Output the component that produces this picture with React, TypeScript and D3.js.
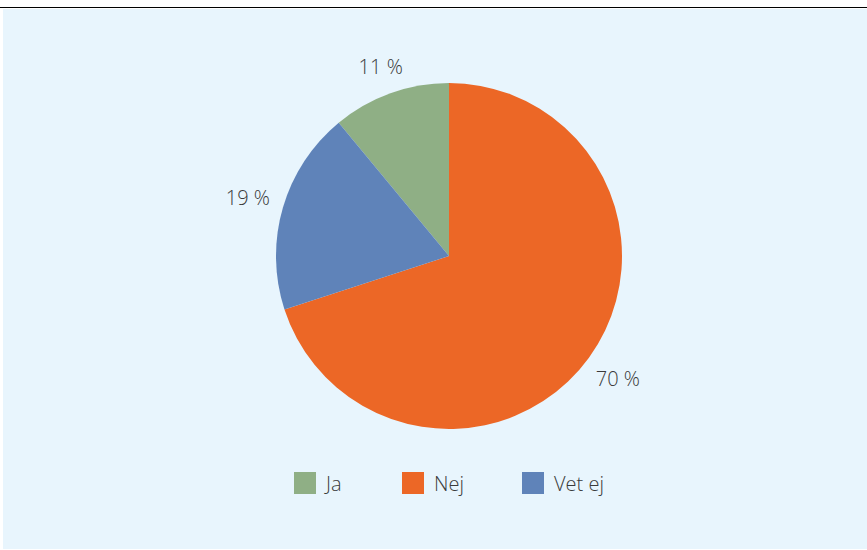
import React from 'react';
import * as d3 from 'd3';

// Chart data
const categories = ['Ja', 'Nej', 'Vet ej'];
const values = [11, 70, 19];
const colors = ['#8faf85', '#ec6726', '#5f83b9'];

const width = 867;
const height = 550;
const cx = 449;
const cy = 256;
const radius = 173;
const fontFamily = '"Open Sans", "DejaVu Sans", sans-serif';

const App = () => {
  const total = d3.sum(values);
  // first slice (Ja) ends at 12 o'clock
  const start = -(values[0] / total) * Math.PI * 2;
  const pie = d3.pie<number>().sort(null).startAngle(start).endAngle(start + Math.PI * 2);
  const arcs = pie(values);
  const arc = d3.arc<d3.PieArcDatum<number>>().innerRadius(0).outerRadius(radius);

  // labels outside end, pushed out by their own half size
  const labelPos = (d: d3.PieArcDatum<number>) => {
    const a = (d.startAngle + d.endAngle) / 2;
    const dx = Math.sin(a);
    const dy = -Math.cos(a);
    const r = radius + 14 + Math.abs(dx) * 21 + Math.abs(dy) * 8;
    return [cx + dx * r, cy + dy * r];
  };

  const legendX = d3.scaleOrdinal<string, number>().domain(categories).range([294, 402, 522]);

  return (
    <svg width={width} height={height} style={{ position: 'absolute', left: 0, top: 0 }}>
      <rect x={0} y={0} width={width} height={height} fill="#ffffff" />
      <rect x={3} y={9} width={width - 3} height={540} fill="#e8f5fd" />
      <line x1={0} x2={width} y1={7.5} y2={7.5} stroke="#000" strokeWidth={1} />
      <g transform={`translate(${cx},${cy})`}>
        {arcs.map((d, i) => (
          <path key={categories[i]} d={arc(d) || ''} fill={colors[i]} />
        ))}
      </g>
      {arcs.map((d, i) => {
        const [x, y] = labelPos(d);
        return (
          <text
            key={'l' + i}
            x={x}
            y={y}
            textAnchor="middle"
            dominantBaseline="central"
            fontFamily={fontFamily}
            fontWeight={300}
            fontSize={20}
            fill="#3a3a3a"
          >
            {values[i] + ' %'}
          </text>
        );
      })}
      {categories.map((c, i) => (
        <g key={c} transform={`translate(${legendX(c)},472)`}>
          <rect width={22} height={22} fill={colors[i]} />
          <text
            x={32}
            y={11}
            dominantBaseline="central"
            fontFamily={fontFamily}
            fontWeight={300}
            fontSize={20}
            fill="#3a3a3a"
          >
            {c}
          </text>
        </g>
      ))}
    </svg>
  );
};

export default App;
